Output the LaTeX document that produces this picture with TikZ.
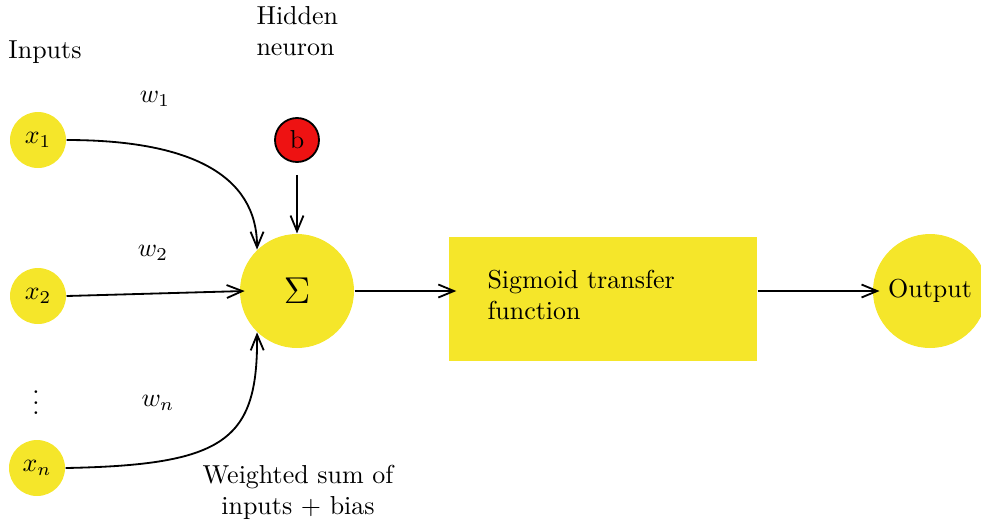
\documentclass[tikz,border=0pt]{standalone}
\usetikzlibrary{arrows.meta}
\definecolor{nyellow}{RGB}{245,230,42}
\definecolor{nred}{RGB}{238,18,18}
\begin{document}
\begin{tikzpicture}[x=0.385pt,y=-0.385pt,
  conn/.style={line width=0.7pt,-{Straight Barb[length=6pt,width=5pt]}},
  inp/.style={circle,fill=nyellow,inner sep=0pt,minimum size={56*0.385pt}},
  big/.style={circle,fill=nyellow,inner sep=0pt,minimum size={114*0.385pt}},
  lbl/.style={inner sep=0pt}]
\useasboundingbox (0,0) rectangle (981,525);
% nodes
\node[inp] (x1) at (38,140) {$x_1$};
\node[inp] (x2) at (38,296) {$x_2$};
\node[inp] (xn) at (37,468) {$x_n$};
\node[lbl] (dots) at (36,395) {$\vdots$};
\node[circle,draw=black,line width=0.7pt,fill=nred,inner sep=0pt,minimum size={44*0.385pt}] (b) at (297,140) {b};
\node[big] (sum) at (297,291) {\Large$\Sigma$};
\node[rectangle,fill=nyellow,minimum width={308*0.385pt},minimum height={124*0.385pt},inner sep=0pt] (sig) at (603,299) {};
\node[lbl,anchor=west,align=left] (sigtext) at (487,295) {Sigmoid transfer\\function};
\node[big] (out) at (930,291) {Output};
% labels
\node[lbl] (inputs) at (45,52) {Inputs};
\node[lbl,anchor=west,align=left] (hidden) at (256,31) {Hidden\\neuron};
\node[lbl] (w1) at (155,99) {$w_1$};
\node[lbl] (w2) at (153,253) {$w_2$};
\node[lbl] (wn) at (158,403) {$w_n$};
\node[lbl,align=center] (ws) at (298,492) {Weighted sum of\\inputs + bias};
% connectors
\draw[conn] (x1.east) .. controls +(123,0) and +(0,-75) .. (sum.134);
\draw[conn] (x2.east) -- ([xshift=2pt]sum.west);
\draw[conn] (xn.east) .. controls +(160,-3) and +(1,108) .. (sum.226);
\draw[conn,shorten <={12*0.385pt}] (b.south) -- (sum.north);
\draw[conn,shorten >=-3pt] (sum.east) -- (sum.east -| sig.west);
\draw[conn,shorten >=-2.7pt] (sum.east -| sig.east) -- (out.west);
\end{tikzpicture}
\end{document}
